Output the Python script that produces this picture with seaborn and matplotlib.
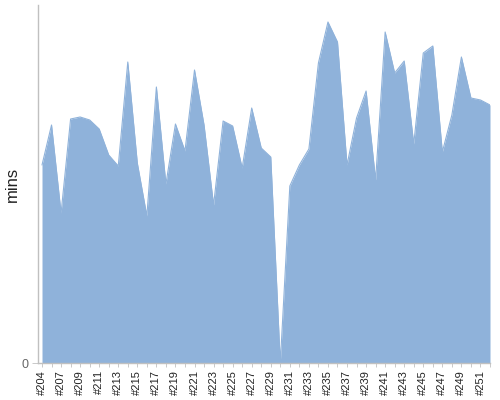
import numpy as np
import pandas as pd
import matplotlib
matplotlib.use("Agg")
import matplotlib.pyplot as plt
import seaborn as sns

builds = ['#204', '#206', '#207', '#208', '#209', '#210', '#211', '#212', '#213', '#214',
          '#215', '#216', '#217', '#218', '#219', '#220', '#221', '#222', '#223', '#224',
          '#225', '#226', '#227', '#228', '#229', '#230', '#231', '#232', '#233', '#234',
          '#235', '#236', '#237', '#238', '#239', '#240', '#241', '#242', '#243', '#244',
          '#245', '#246', '#247', '#248', '#249', '#250', '#251', '#252']

# build duration in minutes
mins = [19.8, 23.8, 15.0, 24.4, 24.6, 24.3, 23.4, 20.8, 19.7, 30.1,
        20.0, 14.7, 27.6, 17.9, 23.9, 21.2, 29.3, 23.8, 15.8, 24.2,
        23.7, 19.5, 25.5, 21.5, 20.6, 0.0, 17.7, 19.8, 21.4, 30.0,
        34.1, 32.1, 19.8, 24.5, 27.2, 18.3, 33.1, 29.0, 30.2, 21.9,
        31.0, 31.7, 21.1, 24.8, 30.6, 26.5, 26.3, 25.8]

tick_labels = ['#204', '#207', '#209', '#211', '#213', '#215', '#217', '#219', '#221', '#223',
               '#225', '#227', '#229', '#231', '#233', '#235', '#237', '#239', '#241', '#243',
               '#245', '#247', '#249', '#251']

df = pd.DataFrame({'build': builds, 'mins': mins})
df['pos'] = np.arange(len(df))

sns.set_style('white')
plt.rcParams['font.family'] = ['Liberation Sans', 'DejaVu Sans']

fig = plt.figure(figsize=(5, 4), dpi=100)
ax = fig.add_axes([0.076, 0.0925, 0.904, 0.895])

fill_color = '#8FB2DA'
ax.fill_between(df['pos'], 0, df['mins'], color=fill_color, linewidth=0)
sns.lineplot(data=df, x='pos', y='mins', color=fill_color, linewidth=0.8, ax=ax)

ax.set_xlim(-0.42, len(df) - 1)
ax.set_ylim(0, 35.8)

# every category gets a tick, every other one a label
ax.set_xticks(df['pos'])
labels = [''] * len(df)
labels[0] = tick_labels[0]
for i, lab in enumerate(tick_labels[1:], start=1):
    labels[2 * i] = lab
ax.set_xticklabels(labels, rotation=90, fontsize=8, color='#222222')
ax.tick_params(axis='x', length=3, width=0.6, color='#c0c0c0', pad=2, bottom=True)

ax.set_yticks([0])
ax.set_yticklabels(['0'], fontsize=9, color='#666666')
ax.tick_params(axis='y', length=4, width=0.6, color='#c0c0c0', pad=3, left=True)

ax.set_xlabel('')
ax.set_ylabel('mins', fontsize=12, color='#222222', labelpad=1)

sns.despine(ax=ax, top=True, right=True)
for side in ['left', 'bottom']:
    ax.spines[side].set_color('#c0c0c0')
    ax.spines[side].set_linewidth(1)

fig.savefig('out.png', dpi=100)
